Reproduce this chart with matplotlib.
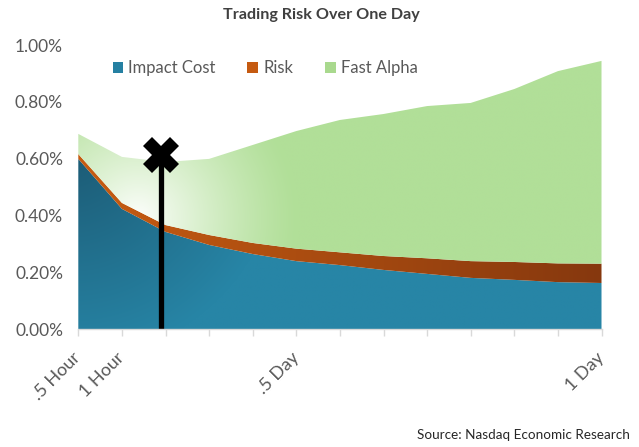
import numpy as np
import matplotlib
matplotlib.use('Agg')
import matplotlib.pyplot as plt
from matplotlib.patches import Patch
from matplotlib.ticker import FuncFormatter

# ---------------- data (values in percent) ----------------
categories = ['.5 Hour', '1 Hour', '', '', '', '.5 Day', '', '', '', '', '', '', '1 Day']
impact_cost = [0.599, 0.423, 0.342, 0.296, 0.264, 0.239, 0.225, 0.208, 0.194, 0.180, 0.173, 0.165, 0.162]
risk = [0.017, 0.021, 0.024, 0.035, 0.039, 0.044, 0.045, 0.049, 0.055, 0.059, 0.063, 0.066, 0.068]
fast_alpha = [0.071, 0.162, 0.222, 0.268, 0.345, 0.414, 0.466, 0.500, 0.536, 0.557, 0.609, 0.677, 0.714]
series_names = ['Impact Cost', 'Risk', 'Fast Alpha']
yticks = [0.0, 0.2, 0.4, 0.6, 0.8, 1.0]
marker_x = 1.9      # category position of the "X" marker
marker_y = 0.613

plt.rcParams['font.family'] = ['Lato', 'DejaVu Sans']

W, H, DPI = 639, 447, 100
fig = plt.figure(figsize=(W / DPI, H / DPI), dpi=DPI)
left_px, right_px, bottom_px, top_px = 78.3, 601.5, 329, 45
ax = fig.add_axes([left_px / W, 1 - bottom_px / H,
                   (right_px - left_px) / W, (bottom_px - top_px) / H])

x = np.arange(len(categories))
ic = np.array(impact_cost)
rk = np.array(risk)
fa = np.array(fast_alpha)
b1 = ic
b2 = ic + rk
b3 = ic + rk + fa

XMAX, YMAX = len(categories) - 1, 1.0
nx, ny = 600, 400
gx = np.linspace(0, XMAX, nx)
gy = np.linspace(0, YMAX, ny)
GX, GY = np.meshgrid(gx, gy)
PX = left_px + (right_px - left_px) * GX / XMAX
PY = bottom_px - (bottom_px - top_px) * GY / YMAX


def hexrgb(h):
    h = h.lstrip('#')
    return np.array([int(h[i:i + 2], 16) for i in (0, 2, 4)]) / 255.0


def grad_area(lo, hi, img, z):
    poly = ax.fill_between(x, lo, hi, facecolor='none', edgecolor='none', zorder=z)
    im = ax.imshow(img, extent=[0, XMAX, 0, YMAX], origin='lower', aspect='auto',
                   interpolation='bilinear', zorder=z)
    im.set_clip_path(poly.get_paths()[0], transform=ax.transData)


# Impact cost: dark at upper-left, base elsewhere
dark, base = hexrgb('#1c5a74'), hexrgb('#2785a6')
d = np.sqrt((PX - 70) ** 2 + (PY - 150) ** 2)
t = np.clip(d / 210.0, 0, 1)[..., None]
img_blue = dark + (base - dark) * t
grad_area(np.zeros_like(b1), b1, img_blue, 2)

# Risk: bright orange left to dark brown right
c0, c1 = hexrgb('#c75c12'), hexrgb('#86380e')
t = np.clip((PX - left_px) / (right_px - left_px), 0, 1)[..., None]
img_or = c0 + (c1 - c0) * t
grad_area(b1, b2, img_or, 2)

# Fast alpha: green fading to white near the lower-left
g = hexrgb('#b1df98')
d = np.sqrt((PX - 138) ** 2 + (PY - 218) ** 2)
w = np.clip(1 - d / 160.0, 0, 1) ** 1.25
img_gr = g + (1 - g) * (0.97 * w)[..., None]
grad_area(b2, b3, img_gr, 2)

# vertical marker line with X
ax.plot([marker_x, marker_x], [0, marker_y], color='black', lw=3.8, zorder=5,
        solid_capstyle='butt')
ax.plot([marker_x], [marker_y], marker='X', color='black', ms=26, zorder=6,
        markeredgewidth=0)

ax.set_xlim(0, XMAX)
ax.set_ylim(0, YMAX)

for s in ['top', 'right', 'left']:
    ax.spines[s].set_visible(False)
ax.spines['bottom'].set_color('#d9d9d9')
ax.spines['bottom'].set_linewidth(1.0)
ax.spines['bottom'].set_zorder(7)

ax.set_yticks(yticks)
ax.yaxis.set_major_formatter(FuncFormatter(lambda v, p: f'{v:.2f}%'))
ax.tick_params(axis='y', length=0, pad=11, labelsize=12.5, labelcolor='#595959')

ax.set_xticks(x)
ax.set_xticklabels(categories)
ax.tick_params(axis='x', length=5, width=1, color='#d9d9d9', pad=14,
               labelsize=13, labelcolor='#595959')
for lab in ax.get_xticklabels():
    lab.set_rotation(45)
    lab.set_ha('right')
    lab.set_va('center')
    lab.set_rotation_mode('anchor')

fig.text(321.5 / W, 1 - 15 / H, 'Trading Risk Over One Day', ha='center', va='center',
         fontsize=11.6, fontweight='bold', color='#404040')

handles = [Patch(facecolor='#2580a2'), Patch(facecolor='#c55a11'), Patch(facecolor='#a9d98e')]
fig.legend(handles, series_names, loc='center', bbox_to_anchor=(265 / W, 1 - 68 / H),
           ncol=3, frameon=False, fontsize=12, labelcolor='#595959',
           handlelength=0.65, handleheight=0.65, handletextpad=0.3, columnspacing=1.9)

fig.text(630 / W, 1 - 435 / H, 'Source: Nasdaq Economic Research', ha='right', va='center',
         fontsize=9.7, color='#262626')

fig.savefig('out.png', dpi=DPI, facecolor='white')
